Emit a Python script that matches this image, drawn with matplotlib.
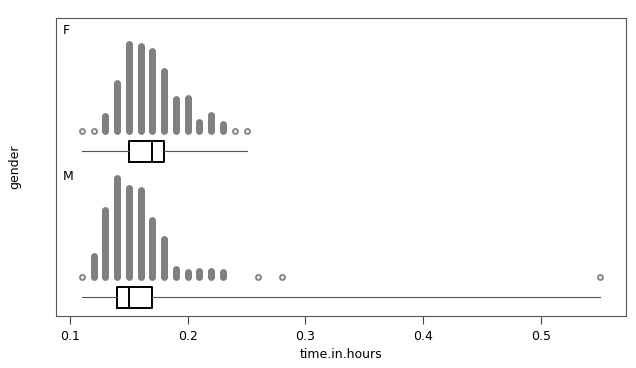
import matplotlib.pyplot as plt

# dot-plot values (hours) and stacked counts per value
f_vals = [0.11, 0.12, 0.13, 0.14, 0.15, 0.16, 0.17, 0.18, 0.19, 0.20, 0.21, 0.22, 0.23, 0.24, 0.25]
f_counts = [1, 1, 16, 49, 88, 86, 81, 61, 33, 34, 10, 17, 8, 1, 1]
m_vals = [0.11, 0.12, 0.13, 0.14, 0.15, 0.16, 0.17, 0.18, 0.19, 0.20, 0.21, 0.22, 0.23, 0.26, 0.28, 0.55]
m_counts = [1, 22, 68, 100, 90, 88, 58, 39, 9, 6, 7, 7, 6, 1, 1, 1]

# box statistics: whislo, q1, med, q3, whishi
f_box = [0.11, 0.15, 0.17, 0.18, 0.25]
m_box = [0.11, 0.14, 0.15, 0.17, 0.55]

groups = ["M", "F"]
PANEL_H = 146   # vertical offset between panels (plot units)
DOT_BASE = 39   # dot baseline above panel bottom
BOX_Y = 19

fig = plt.figure(figsize=(6.36, 3.68), dpi=100)
ax = fig.add_axes([56/636, 52/368, 570/636, 298/368])

gray = "#808080"
for i, (g, vals, counts, bs) in enumerate(zip(groups, [m_vals, f_vals], [m_counts, f_counts], [m_box, f_box])):
    off = i * PANEL_H
    xs, ys = [], []
    for v, c in zip(vals, counts):
        for k in range(c):
            xs.append(v)
            ys.append(off + DOT_BASE + k)
    ax.plot(xs, ys, "o", ms=3.6, mfc="none", mec=gray, mew=1.3, ls="none")
    stats = [dict(whislo=bs[0], q1=bs[1], med=bs[2], q3=bs[3], whishi=bs[4], fliers=[])]
    ax.bxp(stats, positions=[off + BOX_Y], widths=[21], vert=False, showcaps=False,
           showfliers=False, manage_ticks=False,
           boxprops=dict(color="black", lw=1.4),
           medianprops=dict(color="black", lw=1.4),
           whiskerprops=dict(color="#555555", lw=0.8))
    ax.text(0.0940, off + 140, g, fontsize=9, va="center", ha="left")

ax.set_xlim(0.0881, 0.5724)
ax.set_ylim(0, 298)
ax.set_yticks([])
ax.set_xticks([0.1, 0.2, 0.3, 0.4, 0.5])
ax.set_xticklabels(["0.1", "0.2", "0.3", "0.4", "0.5"])
ax.tick_params(axis="x", length=6, width=0.8, color="#444444", labelsize=9, pad=4)
for s in ax.spines.values():
    s.set_color("#555555")
    s.set_linewidth(0.8)
ax.set_xlabel("time.in.hours", fontsize=9, labelpad=4)
fig.text(15/636, 1 - 167/368, "gender", rotation=90, fontsize=9, va="center", ha="center")

fig.savefig("out.png", dpi=100)
